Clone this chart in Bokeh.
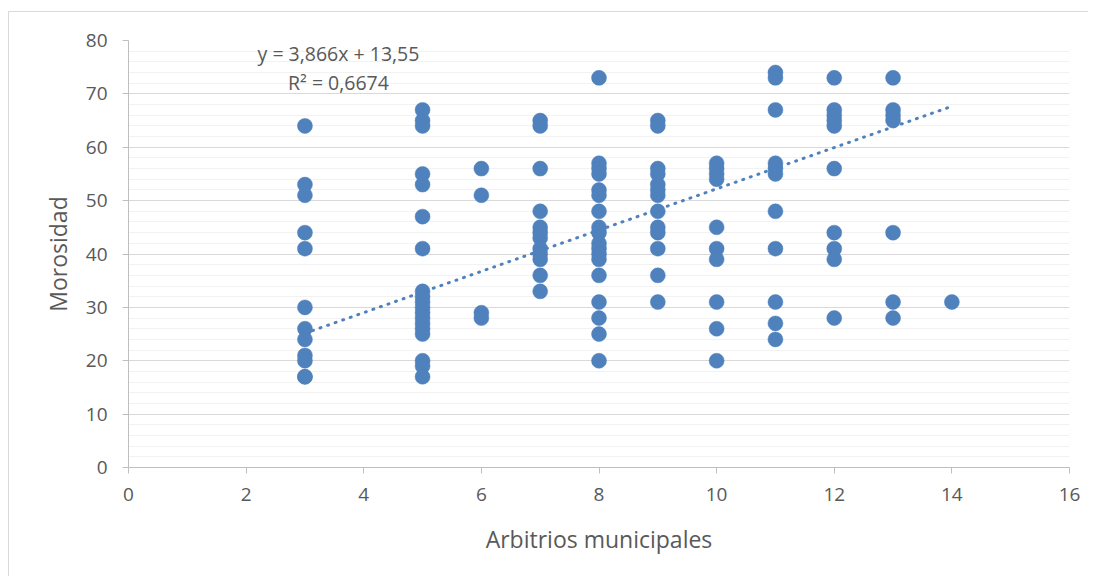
from bokeh.plotting import figure
from bokeh.models import ColumnDataSource, SingleIntervalTicker, Label, Range1d
from bokeh.embed import file_html
from bokeh.resources import INLINE

# ---- data ----
arbitrios = ([3] * 12 + [5] * 19 + [6] * 4 + [7] * 12 + [8] * 18 + [9] * 13 +
             [10] * 10 + [11] * 11 + [12] * 10 + [13] * 7 + [14] * 1)
morosidad = (
    [64, 53, 51, 44, 41, 30, 26, 24, 21, 20, 17, 17] +
    [67, 65, 64, 55, 53, 47, 41, 33, 32, 31, 30, 29, 28, 27, 26, 25, 20, 19, 17] +
    [56, 51, 29, 28] +
    [65, 64, 56, 48, 45, 44, 43, 41, 40, 39, 36, 33] +
    [73, 57, 56, 55, 52, 51, 48, 45, 44, 42, 41, 40, 39, 36, 31, 28, 25, 20] +
    [65, 64, 56, 55, 53, 52, 51, 48, 45, 44, 41, 36, 31] +
    [57, 56, 55, 54, 45, 41, 39, 31, 26, 20] +
    [74, 73, 67, 57, 56, 55, 48, 41, 31, 27, 24] +
    [73, 67, 66, 65, 64, 56, 44, 41, 39, 28] +
    [73, 67, 66, 65, 44, 31, 28] +
    [31]
)
slope = 3.866
intercept = 13.55
r_squared = 0.6674
x_label = "Arbitrios municipales"
y_label = "Morosidad"
eq_text = "y = 3,866x + 13,55"
r2_text = "R² = 0,6674"

BLUE = "#4f81bd"
TXT = "#595959"
FONT = "Open Sans"

p = figure(width=1080, height=565, output_backend="svg", toolbar_location=None,
           x_range=Range1d(0, 16), y_range=Range1d(0, 80),
           min_border_left=119, min_border_right=20, min_border_top=28, min_border_bottom=110)
p.outline_line_color = None
p.styles = {"margin-left": "8px", "margin-top": "11px",
            "border-left": "1px solid #d9d9d9", "border-top": "1px solid #d9d9d9"}

src = ColumnDataSource(dict(x=arbitrios, y=morosidad))
p.scatter("x", "y", source=src, size=15, fill_color=BLUE, line_color=BLUE, line_width=0.5)

tx = [min(arbitrios), max(arbitrios)]
ty = [slope * v + intercept for v in tx]
p.line(tx, ty, line_color=BLUE, line_width=3, line_dash="1 7", line_cap="round")

p.xaxis.ticker = SingleIntervalTicker(interval=2)
p.yaxis.ticker = SingleIntervalTicker(interval=10, num_minor_ticks=5)
for ax in (p.xaxis, p.yaxis):
    ax.axis_line_color = "#bfbfbf"
    ax.major_tick_line_color = "#bfbfbf"
    ax.minor_tick_line_color = None
    ax.major_tick_in = 0
    ax.major_tick_out = 6
    ax.major_label_text_font = FONT
    ax.major_label_text_font_size = "19px"
    ax.major_label_text_color = TXT
    ax.axis_label_text_font = FONT
    ax.axis_label_text_font_size = "23px"
    ax.axis_label_text_color = TXT
    ax.axis_label_text_font_style = "normal"
p.xaxis.axis_label = x_label
p.yaxis.axis_label = y_label
p.xaxis.major_label_standoff = 14
p.yaxis.major_label_standoff = 15
p.xaxis.axis_label_standoff = 19
p.yaxis.axis_label_standoff = 9

p.xgrid.grid_line_color = None
p.ygrid.grid_line_color = "#d9d9d9"
p.ygrid.minor_grid_line_color = "#f2f2f2"

p.add_layout(Label(x=3.57, y=77.6, text=eq_text, text_align="center", text_baseline="middle",
                   text_font=FONT, text_font_size="19.5px", text_color=TXT))
p.add_layout(Label(x=3.57, y=72.2, text=r2_text, text_align="center", text_baseline="middle",
                   text_font=FONT, text_font_size="19.5px", text_color=TXT))

open("out.html", "w").write(file_html(p, INLINE))
